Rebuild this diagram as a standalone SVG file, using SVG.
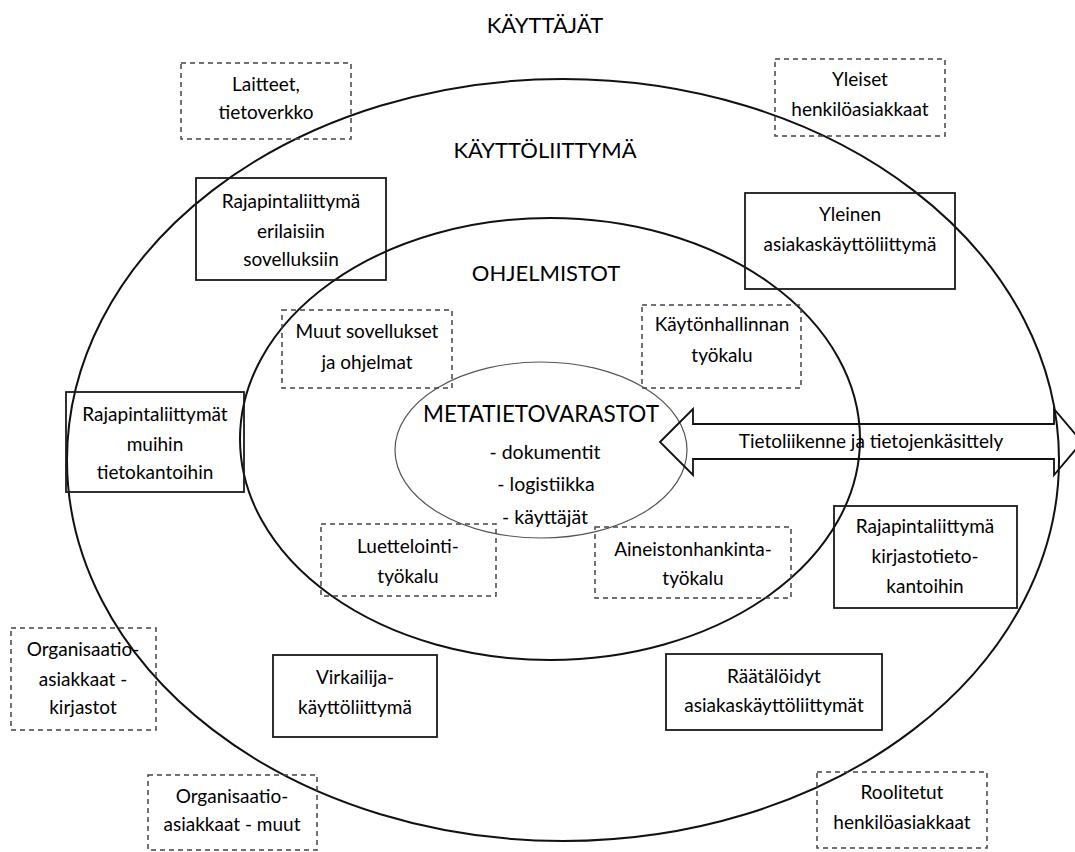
<svg xmlns="http://www.w3.org/2000/svg" width="1075" height="852" viewBox="0 0 1075 852">
<style>
text{font-family:Lato,"Open Sans","Liberation Sans",sans-serif;fill:#000;text-anchor:middle}
.t{font-size:19px}
.h{font-size:22px}
.m{font-size:22.5px}
.l{font-size:19.5px}
.solid{fill:none;stroke:#1a1a1a;stroke-width:1.8}
.dash{fill:none;stroke:#444;stroke-width:1.5;stroke-dasharray:5 4}
.ring{fill:none;stroke:#111;stroke-width:2}
</style>
<rect width="1075" height="852" fill="#fff"/>
<g id="rings">
<ellipse class="ring" cx="563" cy="460" rx="496" ry="381"/>
<ellipse class="ring" cx="550" cy="439" rx="310" ry="221"/>
</g>
<text class="h" x="545" y="33">KÄYTTÄJÄT</text>
<text class="h" x="545" y="158">KÄYTTÖLIITTYMÄ</text>
<text class="h" x="546" y="281">OHJELMISTOT</text>
<g id="metatietovarastot">
<ellipse cx="541" cy="450" rx="146" ry="88" fill="none" stroke="#555" stroke-width="1.2"/>
<text class="m" x="541" y="422">METATIETOVARASTOT</text>
<text class="l" x="545" y="459">- dokumentit</text>
<text class="l" x="546" y="491">- logistiikka</text>
<text class="l" x="545" y="524">- käyttäjät</text>
</g>
<g id="laitteet"><rect class="dash" x="181" y="63" width="170" height="76"/><text class="t" x="266" y="91">Laitteet,</text><text class="t" x="266" y="119">tietoverkko</text></g>
<g id="yleiset"><rect class="dash" x="775" y="59" width="170" height="77"/><text class="t" x="860" y="86">Yleiset</text><text class="t" x="860" y="116">henkilöasiakkaat</text></g>
<g id="rajapinta-sovellukset"><rect class="solid" x="196" y="178" width="190" height="102"/><text class="t" x="291" y="208">Rajapintaliittymä</text><text class="t" x="291" y="238">erilaisiin</text><text class="t" x="291" y="266">sovelluksiin</text></g>
<g id="yleinen"><rect class="solid" x="745" y="193" width="210" height="96"/><text class="t" x="850" y="221">Yleinen</text><text class="t" x="850" y="251">asiakaskäyttöliittymä</text></g>
<g id="muut"><rect class="dash" x="282" y="310" width="170" height="78"/><text class="t" x="367" y="338">Muut sovellukset</text><text class="t" x="367" y="369">ja ohjelmat</text></g>
<g id="kaytonhallinta"><rect class="dash" x="642" y="305" width="159" height="83"/><text class="t" x="722" y="331">Käytönhallinnan</text><text class="t" x="722" y="362">työkalu</text></g>
<g id="rajapinta-tietokannat"><rect class="solid" x="66" y="392" width="178" height="100"/><text class="t" x="155" y="421">Rajapintaliittymät</text><text class="t" x="155" y="451">muihin</text><text class="t" x="155" y="479">tietokantoihin</text></g>
<g id="luettelointi"><rect class="dash" x="321" y="524" width="175" height="72"/><text class="t" x="408" y="553">Luettelointi-</text><text class="t" x="408" y="583">työkalu</text></g>
<g id="aineistonhankinta"><rect class="dash" x="595" y="527" width="196" height="71"/><text class="t" x="693" y="556">Aineistonhankinta-</text><text class="t" x="693" y="585">työkalu</text></g>
<g id="rajapinta-kirjasto"><rect class="solid" x="834" y="506" width="183" height="102"/><text class="t" x="925" y="533">Rajapintaliittymä</text><text class="t" x="925" y="563">kirjastotieto-</text><text class="t" x="925" y="593">kantoihin</text></g>
<g id="org-kirjastot"><rect class="dash" x="11" y="628" width="145" height="102"/><text class="t" x="83" y="656">Organisaatio-</text><text class="t" x="83" y="686">asiakkaat -</text><text class="t" x="83" y="714">kirjastot</text></g>
<g id="virkailija"><rect class="solid" x="273" y="655" width="164" height="82"/><text class="t" x="355" y="684">Virkailija-</text><text class="t" x="355" y="714">käyttöliittymä</text></g>
<g id="raatalöidyt"><rect class="solid" x="666" y="654" width="216" height="76"/><text class="t" x="774" y="683">Räätälöidyt</text><text class="t" x="774" y="712">asiakaskäyttöliittymät</text></g>
<g id="org-muut"><rect class="dash" x="148" y="775" width="169" height="75"/><text class="t" x="232" y="803">Organisaatio-</text><text class="t" x="232" y="831">asiakkaat - muut</text></g>
<g id="roolitetut"><rect class="dash" x="817" y="772" width="170" height="76"/><text class="t" x="902" y="799">Roolitetut</text><text class="t" x="902" y="829">henkilöasiakkaat</text></g>
<g id="connectors">
<polygon points="660,442 693,409 693,424 1054,424 1054,409 1082,442 1054,475 1054,459 693,459 693,475" fill="none" stroke="#111" stroke-width="1.8" stroke-linejoin="miter"/>
<text class="t" x="871" y="448">Tietoliikenne ja tietojenkäsittely</text>
</g>
</svg>
